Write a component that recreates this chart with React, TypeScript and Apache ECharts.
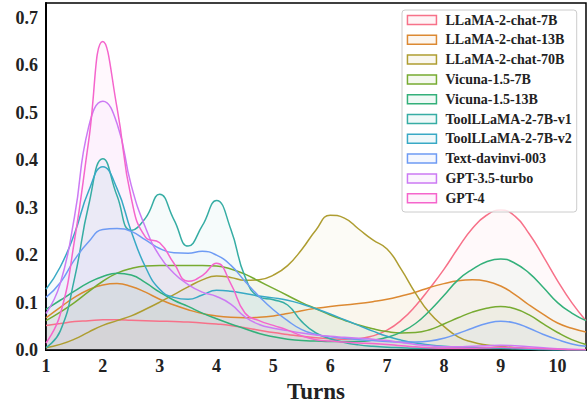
import React, { useEffect, useRef } from "react";
import * as echarts from "echarts";

const turns = [1, 1.25, 1.5, 1.75, 2, 2.25, 2.5, 2.75, 3, 3.25, 3.5, 3.75, 4, 4.25, 4.5, 4.75, 5, 5.25, 5.5, 5.75, 6, 6.25, 6.5, 6.75, 7, 7.25, 7.5, 7.75, 8, 8.25, 8.5, 8.75, 9, 9.25, 9.5, 9.75, 10, 10.25, 10.5];

const seriesNames = [
  "LLaMA-2-chat-7B",
  "LLaMA-2-chat-13B",
  "LLaMA-2-chat-70B",
  "Vicuna-1.5-7B",
  "Vicuna-1.5-13B",
  "ToolLLaMA-2-7B-v1",
  "ToolLLaMA-2-7B-v2",
  "Text-davinvi-003",
  "GPT-3.5-turbo",
  "GPT-4",
];

const colors = ["#f77189", "#dc8932", "#ae9d31", "#77ab31", "#33b07a", "#36ada4", "#38a9c5", "#6e9bf4", "#cc7af4", "#f565cc"];

const llama7b = [0.052, 0.056, 0.06, 0.062, 0.064, 0.064, 0.063, 0.062, 0.061, 0.06, 0.059, 0.057, 0.055, 0.052, 0.047, 0.042, 0.037, 0.033, 0.029, 0.026, 0.024, 0.023, 0.024, 0.03, 0.042, 0.063, 0.093, 0.13, 0.17, 0.215, 0.256, 0.284, 0.295, 0.282, 0.245, 0.197, 0.146, 0.1, 0.062];
const llama13b = [0.068, 0.09, 0.111, 0.127, 0.137, 0.14, 0.134, 0.122, 0.107, 0.095, 0.085, 0.077, 0.072, 0.069, 0.068, 0.069, 0.072, 0.077, 0.083, 0.088, 0.092, 0.095, 0.098, 0.102, 0.107, 0.114, 0.122, 0.132, 0.14, 0.146, 0.148, 0.145, 0.135, 0.117, 0.095, 0.075, 0.057, 0.046, 0.038];
const llama70b = [0.005, 0.012, 0.023, 0.038, 0.052, 0.062, 0.072, 0.086, 0.101, 0.117, 0.133, 0.148, 0.156, 0.153, 0.147, 0.148, 0.158, 0.178, 0.212, 0.253, 0.284, 0.278, 0.255, 0.232, 0.213, 0.17, 0.12, 0.078, 0.05, 0.028, 0.017, 0.011, 0.008, 0.005, 0.003, 0.002, 0.002, 0.001, 0.001];
const vicuna7b = [0.062, 0.08, 0.1, 0.123, 0.145, 0.162, 0.172, 0.177, 0.178, 0.178, 0.178, 0.178, 0.177, 0.171, 0.16, 0.145, 0.13, 0.115, 0.1, 0.087, 0.074, 0.063, 0.053, 0.045, 0.039, 0.036, 0.037, 0.043, 0.055, 0.068, 0.08, 0.088, 0.092, 0.087, 0.074, 0.055, 0.037, 0.022, 0.012];
const vicuna13b = [0.086, 0.105, 0.124, 0.142, 0.155, 0.162, 0.158, 0.142, 0.122, 0.105, 0.092, 0.078, 0.066, 0.055, 0.045, 0.035, 0.028, 0.023, 0.02, 0.019, 0.018, 0.018, 0.018, 0.021, 0.027, 0.038, 0.056, 0.083, 0.115, 0.148, 0.17, 0.186, 0.192, 0.183, 0.162, 0.132, 0.1, 0.078, 0.062];
const toolV1 = [0.005, 0.04, 0.15, 0.305, 0.403, 0.325, 0.252, 0.278, 0.328, 0.275, 0.219, 0.262, 0.315, 0.255, 0.155, 0.112, 0.106, 0.095, 0.06, 0.036, 0.024, 0.016, 0.011, 0.008, 0.006, 0.005, 0.004, 0.004, 0.004, 0.004, 0.004, 0.004, 0.004, 0.003, 0.002, 0.001, 0.001, 0.001, 0.0];
const toolV2 = [0.128, 0.175, 0.245, 0.335, 0.386, 0.34, 0.25, 0.175, 0.128, 0.111, 0.107, 0.116, 0.126, 0.124, 0.119, 0.114, 0.11, 0.105, 0.097, 0.087, 0.076, 0.064, 0.052, 0.04, 0.029, 0.021, 0.015, 0.011, 0.008, 0.006, 0.005, 0.005, 0.005, 0.004, 0.003, 0.002, 0.001, 0.001, 0.001];
const davinci = [0.111, 0.142, 0.19, 0.228, 0.254, 0.256, 0.25, 0.232, 0.214, 0.205, 0.204, 0.208, 0.2, 0.179, 0.145, 0.113, 0.085, 0.062, 0.043, 0.033, 0.028, 0.025, 0.022, 0.02, 0.018, 0.017, 0.017, 0.019, 0.025, 0.035, 0.046, 0.056, 0.061, 0.057, 0.046, 0.033, 0.022, 0.013, 0.008];
const gpt35 = [0.077, 0.14, 0.28, 0.47, 0.524, 0.477, 0.347, 0.258, 0.198, 0.162, 0.138, 0.122, 0.113, 0.097, 0.07, 0.054, 0.046, 0.041, 0.036, 0.032, 0.029, 0.027, 0.025, 0.023, 0.02, 0.016, 0.012, 0.009, 0.007, 0.007, 0.008, 0.009, 0.01, 0.009, 0.007, 0.005, 0.003, 0.002, 0.001];
const gpt4 = [0.015, 0.075, 0.23, 0.44, 0.65, 0.51, 0.32, 0.238, 0.226, 0.183, 0.145, 0.157, 0.183, 0.14, 0.078, 0.062, 0.052, 0.042, 0.03, 0.022, 0.019, 0.017, 0.015, 0.014, 0.012, 0.009, 0.007, 0.005, 0.004, 0.004, 0.004, 0.005, 0.006, 0.005, 0.004, 0.003, 0.002, 0.001, 0.001];

const allValues = [llama7b, llama13b, llama70b, vicuna7b, vicuna13b, toolV1, toolV2, davinci, gpt35, gpt4];

const xTicks = [1, 2, 3, 4, 5, 6, 7, 8, 9, 10];

const FONT = "'Liberation Serif', 'Times New Roman', serif";
const FILL_ALPHA = 0.06;

function rgba(hex: string, a: number) {
  const n = parseInt(hex.slice(1), 16);
  return `rgba(${(n >> 16) & 255},${(n >> 8) & 255},${n & 255},${a})`;
}

export default function App() {
  const ref = useRef<HTMLDivElement>(null);
  useEffect(() => {
    const chart = echarts.init(ref.current!, null, { renderer: "svg" });
    const series = seriesNames.map((name, i) => ({
      name,
      type: "line",
      data: turns.map((t, j) => [t, allValues[i][j]]),
      smooth: 0.5,
      showSymbol: false,
      symbol: "none",
      lineStyle: { color: colors[i], width: 1.5 },
      itemStyle: { color: colors[i] },
      areaStyle: { color: rgba(colors[i], FILL_ALPHA) },
      clip: true,
    }));
    chart.setOption({
      animation: false,
      backgroundColor: "#ffffff",
      textStyle: { fontFamily: FONT },
      grid: {
        left: 46,
        right: 1,
        top: 3,
        bottom: 49,
        show: true,
        borderColor: "#000",
        borderWidth: 1.5,
        backgroundColor: "transparent",
      },
      xAxis: {
        type: "value",
        min: 1,
        max: 10.5,
        interval: 1,
        name: "Turns",
        nameLocation: "middle",
        nameGap: 26,
        nameTextStyle: { fontFamily: FONT, fontWeight: "bold", fontSize: 23, color: "#222" },
        axisLine: { show: true, lineStyle: { color: "#000", width: 2 } },
        axisTick: { show: false },
        splitLine: { show: false },
        axisLabel: {
          fontFamily: FONT,
          fontWeight: "bold",
          fontSize: 18,
          color: "#222",
          margin: 7,
          showMaxLabel: false,
          formatter: (v: number) => (xTicks.includes(v) ? String(v) : ""),
        },
      },
      yAxis: {
        type: "value",
        min: 0,
        max: 0.731,
        interval: 0.1,
        axisLine: { show: true, lineStyle: { color: "#000", width: 2 } },
        axisTick: { show: false },
        splitLine: { show: false },
        axisLabel: {
          fontFamily: FONT,
          fontWeight: "bold",
          fontSize: 18,
          color: "#222",
          margin: 8,
          showMaxLabel: false,
          formatter: (v: number) => v.toFixed(1),
        },
      },
      legend: {
        orient: "vertical",
        left: 402,
        top: 10,
        icon: "rect",
        itemWidth: 29,
        itemHeight: 9,
        itemGap: 5.8,
        padding: [3, 5, 6.8, 4.7],
        backgroundColor: "rgba(255,255,255,0.8)",
        borderColor: "#cccccc",
        borderWidth: 1,
        borderRadius: 3,
        textStyle: {
          fontFamily: FONT,
          fontWeight: "bold",
          fontSize: 14,
          lineHeight: 14,
          color: "#222",
          padding: [0, 0, 0, 4],
        },
        data: seriesNames.map((name, i) => ({
          name,
          itemStyle: { color: rgba(colors[i], 0.08), borderColor: colors[i], borderWidth: 1.5 },
        })),
      },
      series,
    });
    return () => chart.dispose();
  }, []);
  return (
    <div
      ref={ref}
      style={{ position: "absolute", left: 0, top: 0, width: 587, height: 408 }}
    />
  );
}
